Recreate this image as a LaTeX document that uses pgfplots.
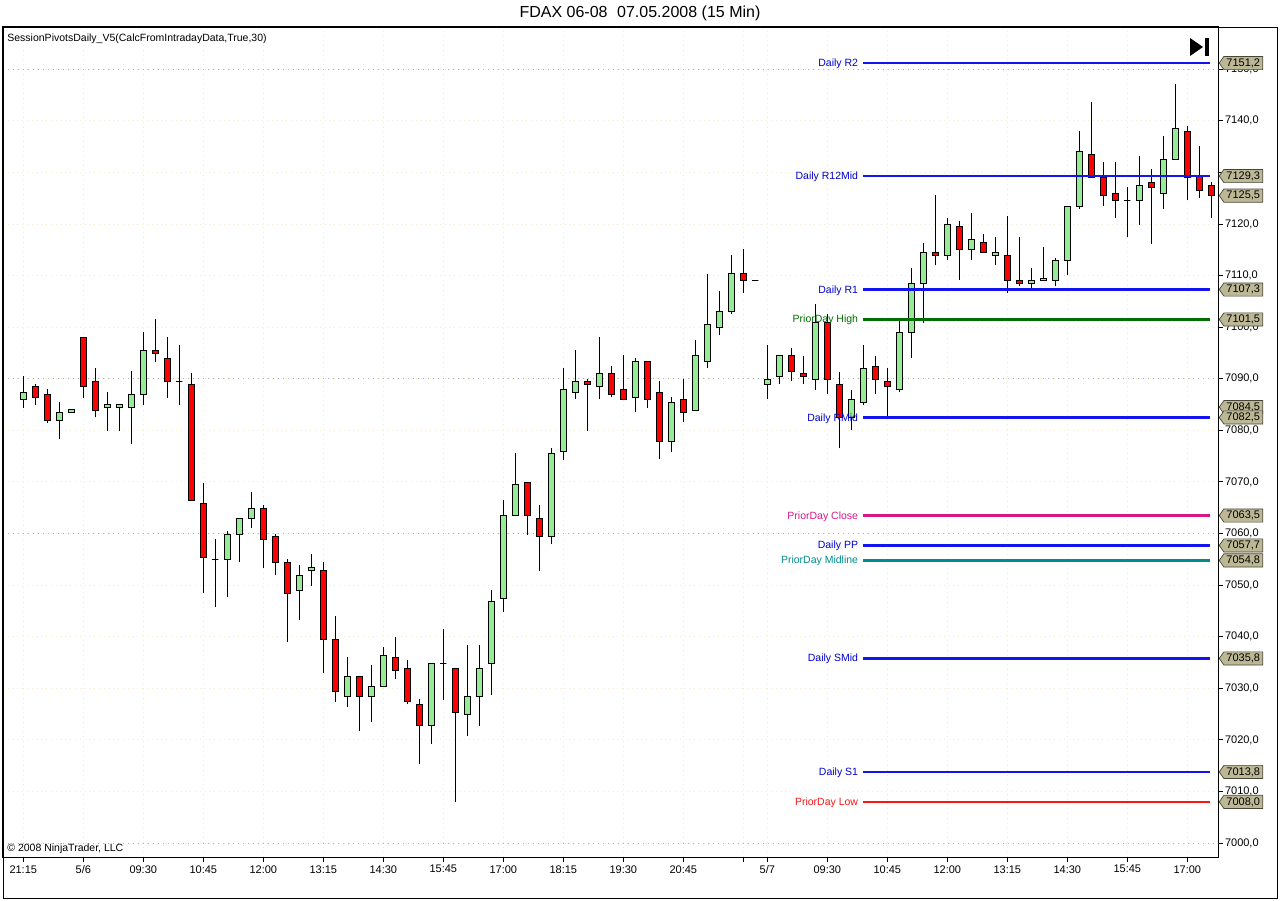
\documentclass[border=0pt]{standalone}
\usepackage{fontspec}
\setmainfont{Liberation Sans}
\usepackage{pgfplots}
\usepackage{pgfplotstable}
\pgfplotsset{compat=1.18}
\usetikzlibrary{shapes.symbols}

\definecolor{candleup}{RGB}{150,235,150}
\definecolor{candledown}{RGB}{255,0,0}
\definecolor{pivblue}{RGB}{20,20,240}
\definecolor{pivbluetext}{RGB}{0,0,205}
\definecolor{pdhigh}{RGB}{0,110,0}
\definecolor{pdclose}{RGB}{215,25,135}
\definecolor{pdmid}{RGB}{0,140,140}
\definecolor{pdlow}{RGB}{250,20,20}
\definecolor{tagfill}{RGB}{188,184,150}
\definecolor{tagdraw}{RGB}{70,70,55}
\definecolor{gridlight}{RGB}{245,235,195}
\definecolor{griddark}{RGB}{175,175,175}

\newcommand\smallfont{\fontsize{5.5pt}{6.5pt}\selectfont}
\newcommand\lblfont{\fontsize{5.25pt}{6.3pt}\selectfont}

\tikzset{lvl/.style={line width=1.2pt},
  lvltext/.style={pos=0, anchor=east, font=\lblfont, xshift=1.5pt, yshift=-0.4pt},
  tag/.style={signal, signal to=west, signal pointer angle=110,
    fill=tagfill, draw=tagdraw, line width=0.35pt, font=\smallfont,
    inner xsep=1.3pt, inner ysep=0pt, minimum height=6.6pt, anchor=west, xshift=0.4pt}}

% 15 min bars: index, open, high, low, close
\pgfplotstableread{
i  O      H      L      C
0  7086.0 7090.5 7084.4 7087.4
1  7088.5 7089.0 7085.0 7086.4
2  7087.0 7088.0 7081.5 7081.9
3  7081.9 7085.5 7078.4 7083.5
4  7083.5 7084.0 7083.5 7084.0
5  7098.0 7098.0 7086.3 7088.5
6  7089.5 7092.0 7082.5 7083.9
7  7084.5 7087.4 7079.9 7085.1
8  7084.5 7085.1 7079.9 7085.1
9  7084.5 7091.5 7077.4 7087.0
10 7087.0 7099.1 7085.0 7095.5
11 7095.5 7101.6 7093.3 7094.9
12 7094.0 7098.1 7086.3 7089.5
13 7089.5 7096.5 7085.0 7089.5
14 7088.9 7091.1 7066.4 7066.4
15 7065.9 7069.9 7048.4 7055.4
16 7055.0 7058.9 7045.8 7055.0
17 7055.0 7060.5 7047.8 7059.9
18 7059.9 7063.0 7054.4 7063.0
19 7063.0 7068.1 7061.0 7064.9
20 7064.9 7065.5 7053.4 7058.9
21 7059.5 7059.9 7051.9 7054.4
22 7054.4 7055.0 7038.9 7048.4
23 7049.0 7053.9 7043.3 7051.9
24 7052.9 7056.0 7049.9 7053.5
25 7052.9 7054.5 7032.9 7039.5
26 7039.5 7044.0 7027.4 7029.4
27 7028.5 7036.1 7026.3 7032.4
28 7032.4 7032.4 7021.8 7028.5
29 7028.5 7034.5 7023.4 7030.4
30 7030.4 7038.0 7030.4 7036.4
31 7036.0 7040.0 7031.9 7033.5
32 7033.9 7035.5 7026.9 7027.5
33 7026.9 7027.9 7015.4 7022.9
34 7022.9 7034.9 7019.3 7034.9
35 7034.9 7041.5 7027.8 7034.9
36 7033.9 7033.9 7007.9 7025.4
37 7025.0 7038.4 7020.8 7028.5
38 7028.5 7038.4 7022.8 7033.9
39 7034.9 7049.1 7028.8 7046.9
40 7047.5 7066.5 7044.9 7063.5
41 7063.5 7075.6 7063.5 7069.6
42 7069.9 7069.9 7059.8 7063.5
43 7063.0 7065.5 7052.8 7059.5
44 7059.5 7076.5 7057.9 7075.6
45 7075.9 7092.1 7074.3 7088.0
46 7087.4 7095.6 7086.0 7089.5
47 7089.5 7089.9 7079.9 7088.9
48 7088.5 7098.1 7086.0 7091.1
49 7091.1 7092.5 7086.4 7087.0
50 7088.0 7094.6 7086.0 7086.0
51 7086.4 7094.0 7083.5 7093.4
52 7093.4 7093.4 7084.4 7086.0
53 7087.4 7089.5 7074.4 7077.9
54 7077.9 7086.4 7075.9 7085.4
55 7086.0 7089.9 7081.6 7083.5
56 7083.9 7097.5 7083.9 7094.6
57 7093.4 7110.4 7092.0 7100.6
58 7100.0 7107.0 7098.4 7103.1
59 7103.1 7114.0 7102.5 7110.4
60 7110.4 7115.2 7106.6 7109.1
61 7109.1 7109.1 7109.1 7109.1
62 7088.9 7096.5 7086.0 7089.9
63 7090.5 7094.5 7088.9 7094.5
64 7094.5 7095.9 7089.5 7091.4
65 7091.1 7094.5 7088.9 7090.5
66 7089.9 7104.4 7087.9 7100.9
67 7100.9 7102.5 7087.0 7089.9
68 7088.9 7091.4 7076.5 7082.5
69 7082.5 7087.9 7080.0 7086.0
70 7085.4 7096.5 7085.0 7092.0
71 7092.4 7094.5 7087.0 7089.9
72 7089.5 7092.0 7082.5 7088.5
73 7087.9 7101.3 7087.4 7099.0
74 7099.0 7111.4 7094.0 7108.5
75 7108.5 7116.4 7100.9 7114.5
76 7114.5 7125.6 7112.0 7113.9
77 7113.9 7121.1 7113.0 7119.9
78 7119.5 7120.5 7109.1 7115.1
79 7115.1 7122.1 7113.0 7117.0
80 7116.4 7118.0 7114.5 7114.5
81 7113.9 7117.4 7112.0 7114.5
82 7113.9 7121.6 7106.6 7109.1
83 7109.1 7117.4 7107.9 7108.5
84 7108.5 7111.4 7107.0 7109.1
85 7109.1 7115.5 7109.1 7109.5
86 7109.1 7113.5 7107.9 7113.0
87 7113.0 7123.4 7110.1 7123.4
88 7123.4 7138.0 7123.0 7134.1
89 7133.5 7143.6 7129.0 7129.0
90 7129.0 7132.0 7123.4 7125.6
91 7125.9 7132.0 7121.1 7124.6
92 7124.6 7127.1 7117.4 7124.6
93 7124.6 7133.1 7119.9 7127.5
94 7128.1 7130.6 7116.1 7127.1
95 7125.9 7137.0 7123.0 7132.5
96 7132.5 7147.1 7132.5 7138.5
97 7138.0 7138.9 7124.6 7129.0
98 7129.4 7135.1 7125.0 7126.5
99 7127.5 7128.1 7121.1 7125.5
}\candles

\begin{document}
\begin{tikzpicture}
\path[use as bounding box] (0,0) rectangle (640pt,-450pt);
\node[font=\fontsize{8pt}{9pt}\selectfont] at (320pt,-6.5pt) {FDAX 06-08\hspace{0.6em}07.05.2008 (15 Min)};

\begin{axis}[
  at={(1.5pt,-428.5pt)}, anchor=south west,
  scale only axis, width=607.5pt, height=415pt,
  xmin=-1.69, xmax=99.56, ymin=6997.32, ymax=7158.18,
  axis line style={black, line width=0.5pt},
  xtick pos=bottom, ytick pos=right,
  tick align=outside, major tick length=2.5pt,
  tick style={black, line width=0.5pt},
  xtick={0,5,10,15,20,25,30,35,40,45,50,55,60,62,67,72,77,82,87,92,97},
  xticklabels={21:15,5/6,09:30,10:45,12:00,13:15,14:30,15:45,17:00,18:15,19:30,20:45,{},5/7,09:30,10:45,12:00,13:15,14:30,15:45,17:00},
  xticklabel style={font=\smallfont, inner sep=1.5pt},
  ytick={7000,7010,...,7150},
  yticklabels={{7000,0},{7010,0},{7020,0},{7030,0},{7040,0},{7050,0},{7060,0},{7070,0},{7080,0},{7090,0},{7100,0},{7110,0},{7120,0},{},{7140,0},{7150,0}},
  yticklabel style={font=\smallfont, inner xsep=0.8pt},
  xmajorgrids, ymajorgrids,
  major grid style={gridlight, dotted, line width=0.5pt},
  extra y ticks={7000,7060,7090,7150},
  extra y tick labels={},
  extra y tick style={grid=major, major grid style={griddark, dotted, line width=0.5pt}, major tick length=0pt},
]

% candles: wick from low to high, then the open-close body
\pgfplotsinvokeforeach{0,...,99}{
  \pgfplotstablegetelem{#1}{O}\of\candles \let\cO\pgfplotsretval
  \pgfplotstablegetelem{#1}{H}\of\candles \let\cH\pgfplotsretval
  \pgfplotstablegetelem{#1}{L}\of\candles \let\cL\pgfplotsretval
  \pgfplotstablegetelem{#1}{C}\of\candles \let\cC\pgfplotsretval
  \pgfmathsetmacro\xa{#1-0.26}
  \pgfmathsetmacro\xb{#1+0.26}
  \pgfmathtruncatemacro\cUp{\cC>\cO}
  \ifnum\cUp=1 \def\cFill{candleup}\else\def\cFill{candledown}\fi
  \edef\temp{\noexpand\addplot [black, line width=0.5pt] coordinates {(#1,\cL) (#1,\cH)};
    \noexpand\addplot [draw=black, fill=\cFill, line width=0.5pt]
      coordinates {(\xa,\cO) (\xb,\cO) (\xb,\cC) (\xa,\cC)} -- cycle;}
  \temp
}

% session pivot levels
\addplot[pivblue, lvl] coordinates {(69.97,7151.2) (98.9,7151.2)}
  node[lvltext, text=pivbluetext] {Daily R2};
\addplot[pivblue, lvl] coordinates {(69.97,7129.3) (98.9,7129.3)}
  node[lvltext, text=pivbluetext] {Daily R12Mid};
\addplot[pivblue, lvl] coordinates {(69.97,7107.3) (98.9,7107.3)}
  node[lvltext, text=pivbluetext] {Daily R1};
\addplot[pdhigh, lvl] coordinates {(69.97,7101.5) (98.9,7101.5)}
  node[lvltext, text=pdhigh] {PriorDay High};
\addplot[pivblue, lvl] coordinates {(69.97,7082.5) (98.9,7082.5)}
  node[lvltext, text=pivbluetext] {Daily RMid};
\addplot[pdclose, lvl] coordinates {(69.97,7063.5) (98.9,7063.5)}
  node[lvltext, text=pdclose] {PriorDay Close};
\addplot[pivblue, lvl] coordinates {(69.97,7057.7) (98.9,7057.7)}
  node[lvltext, text=pivbluetext] {Daily PP};
\addplot[pdmid, lvl] coordinates {(69.97,7054.8) (98.9,7054.8)}
  node[lvltext, text=pdmid] {PriorDay Midline};
\addplot[pivblue, lvl] coordinates {(69.97,7035.8) (98.9,7035.8)}
  node[lvltext, text=pivbluetext] {Daily SMid};
\addplot[pivblue, lvl] coordinates {(69.97,7013.8) (98.9,7013.8)}
  node[lvltext, text=pivbluetext] {Daily S1};
\addplot[pdlow, lvl] coordinates {(69.97,7008.0) (98.9,7008.0)}
  node[lvltext, text=pdlow] {PriorDay Low};

% price tags on the right scale
\coordinate (t1) at (axis cs:99.56,7151.2);
\coordinate (t2) at (axis cs:99.56,7129.3);
\coordinate (t3) at (axis cs:99.56,7125.5);
\coordinate (t4) at (axis cs:99.56,7107.3);
\coordinate (t5) at (axis cs:99.56,7101.5);
\coordinate (t6) at (axis cs:99.56,7084.5);
\coordinate (t7) at (axis cs:99.56,7082.5);
\coordinate (t8) at (axis cs:99.56,7063.5);
\coordinate (t9) at (axis cs:99.56,7057.7);
\coordinate (t10) at (axis cs:99.56,7054.8);
\coordinate (t11) at (axis cs:99.56,7035.8);
\coordinate (t12) at (axis cs:99.56,7013.8);
\coordinate (t13) at (axis cs:99.56,7008.0);
\end{axis}

\node[tag] at (t1) {7151,2};
\node[tag] at (t2) {7129,3};
\node[tag] at (t3) {7125,5};
\node[tag] at (t4) {7107,3};
\node[tag] at (t5) {7101,5};
\node[tag] at (t6) {7084,5};
\node[tag] at (t7) {7082,5};
\node[tag] at (t8) {7063,5};
\node[tag] at (t9) {7057,7};
\node[tag] at (t10) {7054,8};
\node[tag] at (t11) {7035,8};
\node[tag] at (t12) {7013,8};
\node[tag] at (t13) {7008,0};

% frame, captions, end-of-chart icon
\draw[line width=0.5pt] (1.5pt,-13.5pt) rectangle (638.5pt,-449pt);
\node[font=\lblfont, anchor=west, inner sep=0pt] at (3.5pt,-19.5pt) {SessionPivotsDaily\_V5(CalcFromIntradayData,True,30)};
\node[font=\lblfont, anchor=west, inner sep=0pt] at (3.5pt,-424.5pt) {\textcopyright{} 2008 NinjaTrader, LLC};
\fill (595pt,-19pt) -- (595pt,-28pt) -- (601.5pt,-23.5pt) -- cycle;
\fill (602.5pt,-19pt) rectangle (604.3pt,-28pt);
\end{tikzpicture}
\end{document}
